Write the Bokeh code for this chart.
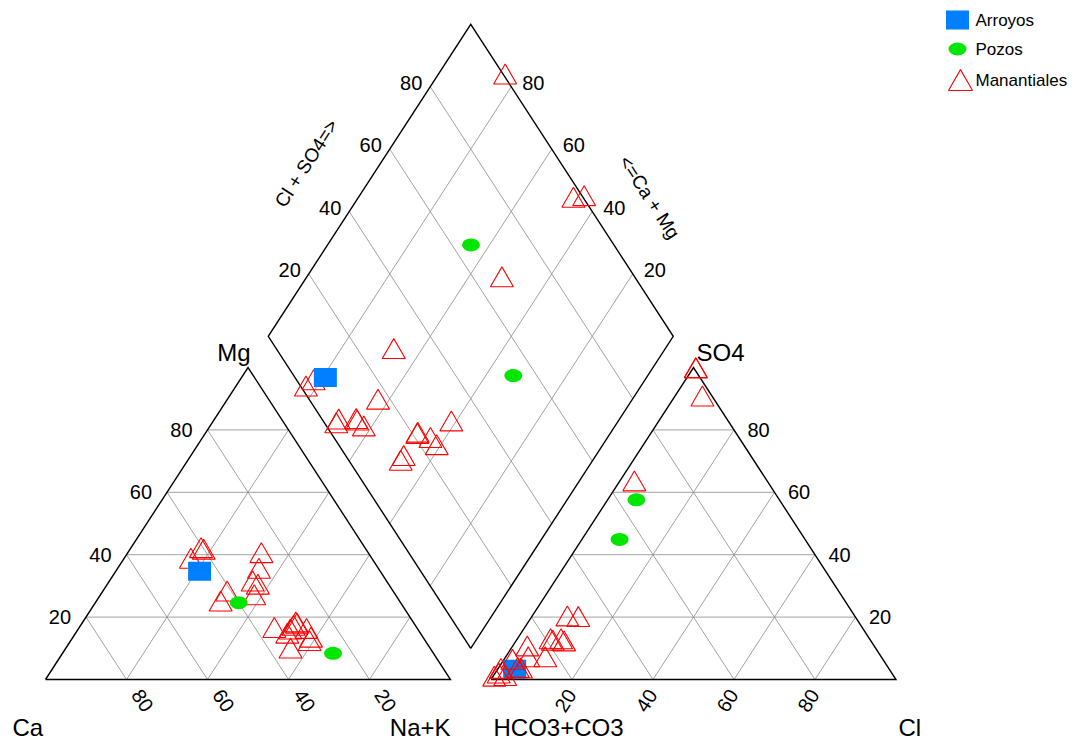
from bokeh.plotting import figure
from bokeh.models import Range1d
from bokeh.embed import file_html
from bokeh.resources import INLINE
from bokeh.core.properties import value

# ---------------- data (% of meq/L) ----------------
series_names = ["Arroyos", "Pozos", "Manantiales"]

arroyos_ca = [44.6]
arroyos_mg = [34.7]
arroyos_nak = [20.7]
arroyos_hco3 = [92.5]
arroyos_so4 = [3.3]
arroyos_cl = [4.2]

pozos_ca = [40.0, 24.8]
pozos_mg = [24.6, 8.4]
pozos_nak = [35.4, 66.8]
pozos_hco3 = [35.3, 45.8]
pozos_so4 = [57.6, 44.9]
pozos_cl = [7.1, 9.3]

man_ca = [45.2, 29.4, 35.0, 35.7, 40.6, 41.0, 26.9, 32.8, 44.7, 41.5,
          30.0, 33.6, 35.4, 28.2, 32.0, 27.9, 29.1, 30.6, 29.5, 33.4]
man_mg = [37.8, 17.0, 9.0, 15.6, 40.7, 41.2, 39.6, 29.5, 24.1, 27.3,
          34.6, 30.5, 26.1, 12.5, 15.1, 15.3, 11.4, 16.3, 17.4, 13.8]
man_nak = [17.0, 53.6, 56.0, 48.7, 18.7, 17.8, 33.5, 37.7, 31.2, 31.2,
           35.4, 35.9, 38.5, 59.3, 52.9, 56.8, 59.5, 53.1, 53.1, 52.8]
man_hco3 = [0.0, 2.9, 0.0, 33.3, 96.3, 99.2, 71.5, 83.5, 96.4, 97.6,
            92.0, 92.0, 91.3, 68.9, 79.3, 76.7, 76.3, 86.2, 87.7, 79.0]
man_so4 = [98.8, 89.8, 98.9, 62.6, 2.5, 0.0, 19.3, 6.2, 0.2, 1.0,
           5.4, 2.8, 2.6, 19.1, 12.0, 12.0, 11.3, 9.7, 6.2, 11.5]
man_cl = [1.2, 7.3, 1.1, 4.1, 1.2, 0.8, 9.2, 10.3, 3.4, 1.4,
          2.6, 5.2, 6.1, 12.0, 8.7, 11.3, 12.4, 4.1, 6.1, 9.5]

tick_values = [20, 40, 60, 80]
tick_labels = ["20", "40", "60", "80"]

# ---------------- geometry ----------------
W, H = 1077, 740
PXX = 405.0   # pixels per triangle side
PXY = 312.0   # pixels per triangle height
X0 = -45.0 / PXX      # left triangle's Ca corner sits 45 px from the left
Y1 = 679.0 / PXY      # triangle bases sit 679 px from the top
GAP = 0.1


def dx(px):
    return px / PXX


def dy(px):
    return px / PXY


def cat_xy(mg, nak):
    return nak / 100.0 + 0.5 * mg / 100.0, mg / 100.0


def an_xy(so4, cl):
    return 1.0 + GAP + cl / 100.0 + 0.5 * so4 / 100.0, so4 / 100.0


def dia_xy(a, m):
    # a = Cl+SO4 (%), m = Ca+Mg (%)
    a /= 100.0
    m /= 100.0
    return 1.0 + GAP / 2 + 0.5 * (a - m), GAP + a + m


def img_xy(X, Y):
    # screen pixel -> data coords (used only for the legend block)
    return X0 + X / PXX, Y1 - Y / PXY


p = figure(width=W, height=H, output_backend="svg", toolbar_location=None,
           x_range=Range1d(X0, X0 + W / PXX), y_range=Range1d(Y1 - H / PXY, Y1),
           x_axis_location=None, y_axis_location=None, min_border=0)
p.grid.visible = False
p.outline_line_color = None
p.background_fill_color = "white"
p.border_fill_color = "white"

GRID = "#8a8a8a"
FONT = value("Liberation Sans")

# ---- grid lines ----
gx, gy = [], []
for k in tick_values:
    for (m1, n1), (m2, n2) in [((k, 0), (k, 100 - k)),          # Mg = k
                               ((0, 100 - k), (100 - k, 0)),    # Ca = k
                               ((0, k), (100 - k, k))]:         # NaK = k
        x1, y1 = cat_xy(m1, n1)
        x2, y2 = cat_xy(m2, n2)
        gx.append([x1, x2]); gy.append([y1, y2])
    for (s1, c1), (s2, c2) in [((k, 0), (k, 100 - k)),          # SO4 = k
                               ((0, 100 - k), (100 - k, 0)),    # HCO3 = k
                               ((0, k), (100 - k, k))]:         # Cl = k
        x1, y1 = an_xy(s1, c1)
        x2, y2 = an_xy(s2, c2)
        gx.append([x1, x2]); gy.append([y1, y2])
    for (a1, m1), (a2, m2) in [((k, 0), (k, 100)), ((0, k), (100, k))]:
        x1, y1 = dia_xy(a1, m1)
        x2, y2 = dia_xy(a2, m2)
        gx.append([x1, x2]); gy.append([y1, y2])
p.multi_line(gx, gy, line_color=GRID, line_width=0.8)

# ---- outlines ----
ox, oy = [], []
tri_c = [cat_xy(0, 0), cat_xy(0, 100), cat_xy(100, 0), cat_xy(0, 0)]
tri_a = [an_xy(0, 0), an_xy(0, 100), an_xy(100, 0), an_xy(0, 0)]
dia = [dia_xy(0, 0), dia_xy(100, 0), dia_xy(100, 100), dia_xy(0, 100), dia_xy(0, 0)]
for poly in (tri_c, tri_a, dia):
    ox.append([q[0] for q in poly]); oy.append([q[1] for q in poly])
p.multi_line(ox, oy, line_color="black", line_width=1.4, line_join="miter")


# ---- point coordinates ----
def positions(ca, mg, nak, hco3, so4, cl):
    cx, cy, ax_, ay, dx_, dy_ = [], [], [], [], [], []
    for i in range(len(ca)):
        x, y = cat_xy(mg[i], nak[i]); cx.append(x); cy.append(y)
        x, y = an_xy(so4[i], cl[i]); ax_.append(x); ay.append(y)
        x, y = dia_xy(so4[i] + cl[i], ca[i] + mg[i]); dx_.append(x); dy_.append(y)
    return cx, cy, ax_, ay, dx_, dy_


arr = positions(arroyos_ca, arroyos_mg, arroyos_nak, arroyos_hco3, arroyos_so4, arroyos_cl)
poz = positions(pozos_ca, pozos_mg, pozos_nak, pozos_hco3, pozos_so4, pozos_cl)
man = positions(man_ca, man_mg, man_nak, man_hco3, man_so4, man_cl)

BLUE = "#0080FF"
GREEN = "#00E600"
RED = "#FF0000"


def draw_tri(xs, ys, size=23):
    p.scatter(xs, ys, marker="triangle", size=size, fill_color=None,
              line_color=RED, line_width=1.1)


def draw_sq(xs, ys):
    p.rect(xs, ys, width=23, height=19, width_units="screen", height_units="screen",
           fill_color=BLUE, line_color=None)


def draw_ci(xs, ys):
    p.ellipse(xs, ys, width=18, height=13, width_units="screen", height_units="screen",
              fill_color=GREEN, line_color=None)


# cation triangle and diamond: open triangles under the filled marks
for k in (0, 4):
    draw_tri(man[k], man[k + 1])
    draw_ci(poz[k], poz[k + 1])
    draw_sq(arr[k], arr[k + 1])
# anion triangle: open triangles on top
draw_sq(arr[2], arr[3])
draw_ci(poz[2], poz[3])
draw_tri(man[2], man[3])


# ---- labels ----
def txt(xs, ys, texts, size, align="center", baseline="middle", angle=0.0):
    p.text(xs, ys, text=texts, angle=angle, angle_units="deg", text_align=align,
           text_baseline=baseline, text_font=FONT, text_font_size=value(size),
           text_color="black")


TICK = "20px"
xs, ys = [], []
for k in tick_values:                       # Ca % along the cation base
    x, y = cat_xy(0, 100 - k)
    xs.append(x + dx(16)); ys.append(y - dy(21))
txt(xs, ys, tick_labels, TICK, angle=-57)
xs, ys = [], []
for k in tick_values:                       # Mg % on the cation left side
    x, y = cat_xy(k, 0)
    xs.append(x - dx(15)); ys.append(y)
txt(xs, ys, tick_labels, TICK, align="right")
xs, ys = [], []
for k in tick_values:                       # Cl % along the anion base
    x, y = an_xy(0, k)
    xs.append(x - dx(6.5)); ys.append(y - dy(21))
txt(xs, ys, tick_labels, TICK, angle=57)
xs, ys = [], []
for k in tick_values:                       # SO4 % on the anion right side
    x, y = an_xy(k, 100 - k)
    xs.append(x + dx(13.5)); ys.append(y)
txt(xs, ys, tick_labels, TICK, align="left")
xs, ys = [], []
for k in tick_values:                       # Cl+SO4 % on the diamond
    x, y = dia_xy(k, 100)
    xs.append(x - dx(8)); ys.append(y + dy(4))
txt(xs, ys, tick_labels, TICK, align="right")
xs, ys = [], []
for k in tick_values:                       # Ca+Mg % on the diamond
    x, y = dia_xy(100, k)
    xs.append(x + dx(11)); ys.append(y + dy(4))
txt(xs, ys, tick_labels, TICK, align="left")

TITLE = "24px"
vx, vy = cat_xy(0, 0)
txt([vx - dx(33)], [vy - dy(48)], ["Ca"], TITLE, align="left")
vx, vy = cat_xy(0, 100)
txt([vx], [vy - dy(48)], ["Na+K"], TITLE, align="right")
vx, vy = cat_xy(100, 0)
txt([vx - dx(14)], [vy + dy(15)], ["Mg"], TITLE)
vx, vy = an_xy(0, 0)
txt([vx + dx(2.5)], [vy - dy(48)], ["HCO3+CO3"], TITLE, align="left")
vx, vy = an_xy(0, 100)
txt([vx + dx(2.5)], [vy - dy(48)], ["Cl"], TITLE, align="left")
vx, vy = an_xy(100, 0)
txt([vx + dx(3)], [vy + dy(15)], ["SO4"], TITLE, align="left")
mx, my = dia_xy(50, 100)
txt([mx - dx(63)], [my + dy(17)], ["Cl + SO4=>"], "19px", angle=57)
mx, my = dia_xy(100, 50)
txt([mx + dx(77.5)], [my - dy(17)], ["<=Ca + Mg"], "19px", angle=-57)

# ---- legend (top right) ----
lx, ly = img_xy(957, 19.5)
draw_sq([lx], [ly])
lx, ly = img_xy(957, 48.5)
draw_ci([lx], [ly])
lx, ly = img_xy(960, 83)
draw_tri([lx], [ly], size=24)
leg_x = img_xy(975, 0)[0]
leg_y = [img_xy(0, yy)[1] for yy in (20, 49, 80)]
txt([leg_x] * 3, leg_y, series_names, "17px", align="left")

open("out.html", "w").write(file_html(p, INLINE))
